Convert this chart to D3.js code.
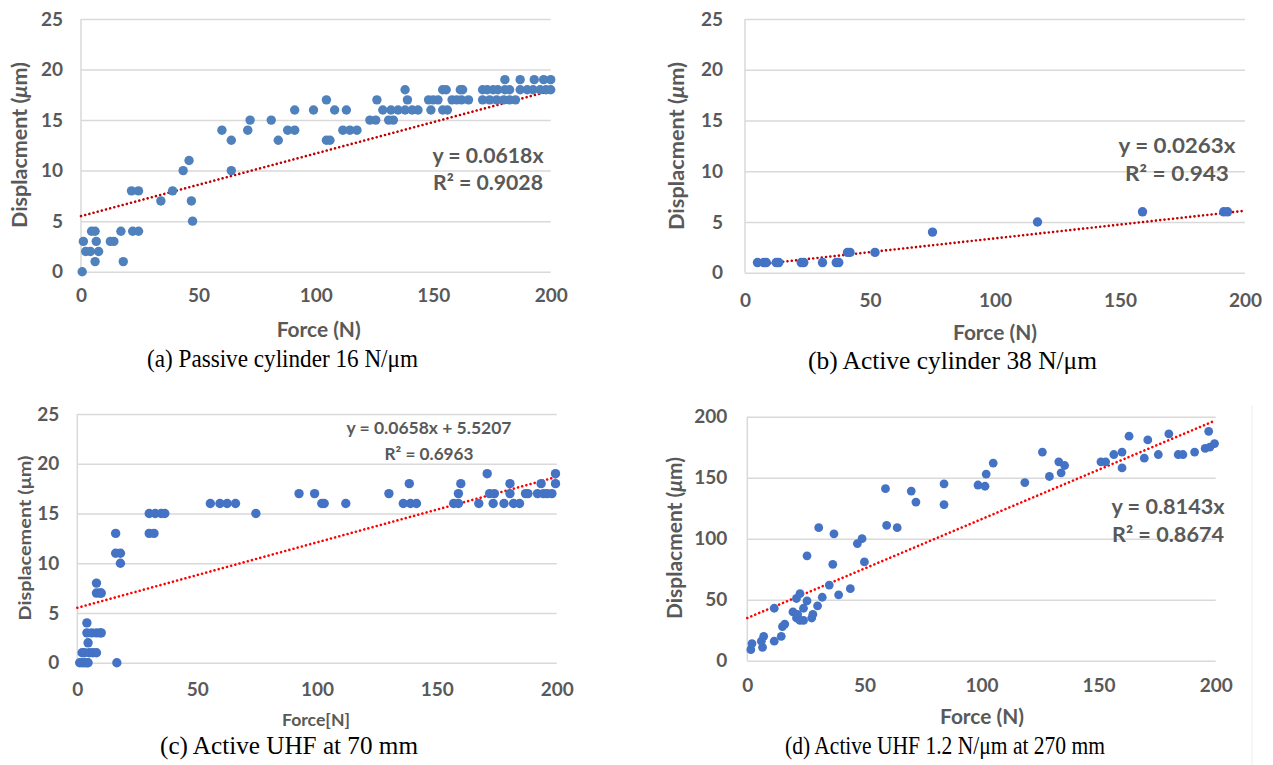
<!DOCTYPE html>
<html><head><meta charset="utf-8">
<script src="https://cdn.jsdelivr.net/npm/d3@7"></script>
<style>
body{margin:0;background:#fff;}
svg{display:block;}
</style></head>
<body>
<svg id="c" width="1273" height="765"></svg>
<script>
// ---------- DATA ----------
const forceTicks = [0, 50, 100, 150, 200];
const dispTicksSmall = [0, 5, 10, 15, 20, 25];
const dispTicksLarge = [0, 50, 100, 150, 200];

// (a) Passive cylinder: [force N, displacement um]
const passivePoints = [
 [0.5,0],[1,3],[2,2],[4,2],[4.5,4],[6,4],[6.5,3],[7.5,2],[6,1],[12.5,3],[14,3],[17,4],[18,1],
 [21.5,8],[24.5,8],[22,4],[24.5,4],[34,7],[39,8],[43.5,10],[46,11],[47,7],[47.5,5],
 [60,14],[64,13],[64,10],[71,14],[72,15],[81,15],[84,13],[88,14],[91,14],[91,16],[99,16],
 [104.5,17],[104.5,13],[106,13],[108,16],[113,16],[111.5,14],[114.5,14],[117.5,14],
 [123,15],[125.5,15],[126,17],[128.5,16],[131,15],[133,15],[132,16],[135,16],[138,16],[141,16],[143.5,16],
 [138,18],[139,17],[148,17],[150,17],[152,17],[149,16],[154,18],[155.5,18],[154,16],[156,16],
 [158,17],[160,17],[162,17],[165,17],[161.5,18],[162.5,18],
 [171,18],[173,18],[175.5,18],[177.5,18],[171,17],[174,17],[177,17],[180,17],[182.5,17],[185,17],
 [180.5,19],[180.5,18],[182.5,18],[187,19],[187,18],[190,18],[192.5,18],[195.5,18],[198,18],[200,18],
 [193,19],[197,19],[200,19]
];
const passiveTrend = [[0,5.5],[200,17.9]];
const passiveEq = ["y = 0.0618x", "R² = 0.9028"];

// (b) Active cylinder
const activeCylPoints = [
 [5,1],[7.5,1],[8.5,1],[12.5,1],[13.5,1],[22.5,1],[23.5,1],[31,1],[36.5,1],[37.5,1],
 [41,2],[42,2],[52,2],[75,4],[117,5],[159,6],[191.5,6],[193,6]
];
const activeCylTrend = [[5,0.8],[200,6.1]];
const activeCylEq = ["y = 0.0263x", "R² = 0.943"];

// (c) Active UHF at 70 mm
const uhf70Points = [
 [1,0],[2,0],[3,0],[4,0],[4.5,0],[16.5,0],[2,1],[3,1],[5,1],[6.5,1],[8,1],[4.5,2],
 [4,3],[6,3],[8,3],[9.5,3],[10,3],[4,4],[8,7],[9.5,7],[10,7],[8,8],[18,10],[16,11],[18,11],[16,13],
 [30,13],[32,13],[30,15],[32.5,15],[35,15],[36.5,15],[55.5,16],[59.5,16],[62.5,16],[66,16],[74.5,15],
 [92.5,17],[99,17],[102,16],[103,16],[112,16],[130,17],[136,16],[139,16],[141.5,16],[138.5,18],
 [157,16],[159,16],[159,17],[160,18],[167.5,16],[171,19],[172,17],[174,17],[173.5,16],[178,16],
 [180.5,18],[180.5,17],[182,16],[184.5,16],[187,17],[188,17],[192,17],[193.5,18],[194.5,17],[196,17],[198,17],
 [199.5,18],[199.5,19]
];
const uhf70Trend = [[0,5.5207],[200,18.6807]];
const uhf70Eq = ["y = 0.0658x + 5.5207", "R² = 0.6963"];

// (d) Active UHF 1.2 N/um at 270 mm
const uhf270Points = [
 [1.5,9],[2,14],[6.5,11],[7,20],[6,16],[11.5,16],[11.5,43],[14.5,20],[15,28],[16,30],[19.5,40],
 [21,51],[22.5,55],[21,35],[22.5,33],[24,33],[21.5,38],[24,43],[25.5,49],[25.5,86],[27.5,35],[28,38],
 [30,45],[32,52],[30.5,109],[35,62],[36.5,79],[37,104],[39,54],[44,59],[47,96],[49,100],[50,81],
 [59,141],[59.5,111],[64,109],[70,139],[72,130],[84,145],[84,128],[98.5,144],[101.5,143],[102,153],
 [105,162],[118.5,146],[126,171],[129,151],[133,163],[134,154],[135.5,160],[151,163],[153,163],
 [156.5,169],[160,171],[160,158],[163,184],[169.5,166],[171,181],[175.5,169],[180,186],[184,169],
 [186,169],[191,171],[195.5,174],[197.5,175],[199.5,178],[197,188]
];
const uhf270Trend = [[0,35],[200,197]];
const uhf270Eq = ["y = 0.8143x", "R² = 0.8674"];

const captions = ["(a) Passive cylinder 16 N/μm", "(b) Active cylinder 38 N/μm",
                  "(c) Active UHF at 70 mm", "(d) Active UHF 1.2 N/μm at 270 mm"];

// ---------- DRAW ----------
const svg = d3.select("#c");
const TXT = "#595959";
const FONT = "Lato, 'Open Sans', sans-serif";

function fit(sel, w) {
  if (w) sel.attr("textLength", w).attr("lengthAdjust", "spacingAndGlyphs");
  return sel;
}

function panel(o) {
  const x = d3.scaleLinear().domain([0, 200]).range([o.x0, o.x1]);
  const y = d3.scaleLinear().domain([0, o.ymax]).range([o.yb, o.yt]);
  const g = svg.append("g");

  // y gridlines + labels
  const ya = g.append("g").attr("transform", `translate(${o.x0},0)`)
    .call(d3.axisLeft(y).tickValues(o.yticks).tickSize(-(o.x1 - o.x0)).tickPadding(o.ypad));
  ya.select(".domain").remove();
  ya.selectAll("line").attr("stroke", "#d9d9d9").attr("stroke-width", 1.5);
  ya.selectAll("text").attr("fill", TXT).style("font-family", FONT).style("font-weight", 700)
    .style("font-size", o.tickFs + "px");

  // vertical axis line
  g.append("line").attr("x1", o.x0).attr("x2", o.x0).attr("y1", o.yt).attr("y2", o.yb)
    .attr("stroke", "#d9d9d9").attr("stroke-width", 1.5);

  // x axis labels
  const xa = g.append("g").attr("transform", `translate(0,${o.yb})`)
    .call(d3.axisBottom(x).tickValues(forceTicks).tickSize(0));
  xa.select(".domain").remove();
  xa.selectAll("text").attr("y", o.xlab).attr("dy", null).attr("fill", TXT)
    .style("font-family", FONT).style("font-weight", 700).style("font-size", o.tickFs + "px");

  // trendline
  g.append("line")
    .attr("x1", x(o.trend[0][0])).attr("y1", y(o.trend[0][1]))
    .attr("x2", x(o.trend[1][0])).attr("y2", y(o.trend[1][1]))
    .attr("stroke", o.trendColor).attr("stroke-width", 2.6)
    .attr("stroke-linecap", "round").attr("stroke-dasharray", "0.01 4.3");

  // points
  g.append("g").selectAll("circle").data(o.points).join("circle")
    .attr("cx", d => x(d[0])).attr("cy", d => y(d[1])).attr("r", o.r)
    .attr("fill", o.color);

  // equation
  const eq = g.append("g").attr("fill", TXT).style("font-family", FONT).style("font-weight", 700)
    .style("font-size", o.eqFs + "px").attr("text-anchor", "middle");
  fit(eq.append("text").attr("x", o.eqX).attr("y", o.eqY1).text(o.eq[0]), o.eqW[0]);
  fit(eq.append("text").attr("x", o.eqX).attr("y", o.eqY2).text(o.eq[1]), o.eqW[1]);

  // axis titles
  fit(g.append("text").attr("x", o.xtX).attr("y", o.xtY)
    .attr("text-anchor", "middle").attr("fill", TXT).style("font-family", FONT)
    .style("font-weight", 700).style("font-size", o.titleFs + "px").text(o.xTitle), o.xtW);

  const yt = g.append("text").attr("transform", `translate(${o.ytX},${o.ytY}) rotate(-90)`)
    .attr("text-anchor", "middle").attr("fill", TXT).style("font-family", FONT)
    .style("font-weight", 700).style("font-size", o.titleFs + "px");
  yt.append("tspan").text(o.yTitle);
  yt.append("tspan").style("font-style", o.italicMu ? "italic" : "normal").text("μ");
  yt.append("tspan").text("m)");
  fit(yt, o.ytW);

  // caption
  fit(svg.append("text").attr("x", o.capX).attr("y", o.capY).attr("fill", "#000")
    .style("font-family", "'Liberation Serif', 'Times New Roman', serif")
    .style("font-size", "25px").text(o.caption), o.capW);
}

panel({x0: 81, x1: 550.7, yt: 19, yb: 271.7, ymax: 25, yticks: dispTicksSmall, ypad: 18,
  xlab: 30, tickFs: 19, points: passivePoints, color: "#4f81bd", r: 4.7,
  trend: passiveTrend, trendColor: "#c00000", eq: passiveEq, eqFs: 21, eqX: 488, eqY1: 163, eqY2: 190,
  eqW: [111, 110],
  xTitle: "Force (N)", xtX: 318.7, xtY: 336.5, xtW: 84, titleFs: 20, yTitle: "Displacment (", italicMu: true,
  ytX: 27, ytY: 145, ytW: 166, caption: captions[0], capX: 147, capY: 367, capW: 271});

panel({x0: 745, x1: 1245, yt: 19, yb: 272.7, ymax: 25, yticks: dispTicksSmall, ypad: 22,
  xlab: 34, tickFs: 19, points: activeCylPoints, color: "#4472c4", r: 4.7,
  trend: activeCylTrend, trendColor: "#c00000", eq: activeCylEq, eqFs: 21, eqX: 1177, eqY1: 153, eqY2: 181,
  eqW: [117, 104],
  xTitle: "Force (N)", xtX: 995, xtY: 340, xtW: 84, titleFs: 20, yTitle: "Displacment (", italicMu: true,
  ytX: 684, ytY: 146, ytW: 168, caption: captions[1], capX: 808, capY: 369, capW: 289});

panel({x0: 77.3, x1: 556.7, yt: 414, yb: 662.7, ymax: 25, yticks: dispTicksSmall, ypad: 18,
  xlab: 33, tickFs: 19, points: uhf70Points, color: "#4472c4", r: 4.7,
  trend: uhf70Trend, trendColor: "#ff0000", eq: uhf70Eq, eqFs: 17, eqX: 429, eqY1: 434, eqY2: 460,
  eqW: [165, 89],
  xTitle: "Force[N]", xtX: 316, xtY: 726, xtW: 68, titleFs: 17, yTitle: "Displacement (", italicMu: false,
  ytX: 31, ytY: 538, ytW: 165, caption: captions[2], capX: 160, capY: 754, capW: 258});

panel({x0: 747.3, x1: 1215.7, yt: 416.7, yb: 660.7, ymax: 200, yticks: dispTicksLarge, ypad: 20,
  xlab: 31, tickFs: 19, points: uhf270Points, color: "#4472c4", r: 4.4,
  trend: uhf270Trend, trendColor: "#ff0000", eq: uhf270Eq, eqFs: 21, eqX: 1168, eqY1: 514, eqY2: 542,
  eqW: [113, 112],
  xTitle: "Force (N)", xtX: 982, xtY: 724, xtW: 84, titleFs: 20, yTitle: "Displacment (", italicMu: true,
  ytX: 682, ytY: 538, ytW: 162, caption: captions[3], capX: 785, capY: 754, capW: 320});

// faint chart border of panel (d)
svg.append("line").attr("x1", 1252).attr("x2", 1252).attr("y1", 405).attr("y2", 765)
  .attr("stroke", "#eeeeee").attr("stroke-width", 1);
</script>
</body></html>
